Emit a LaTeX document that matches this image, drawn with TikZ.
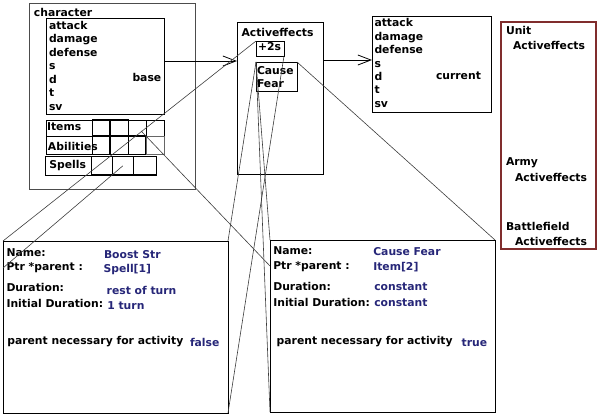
\documentclass[tikz,border=0pt]{standalone}
\usepackage{fontspec}
\setmainfont{DejaVu Sans}
\usetikzlibrary{arrows.meta,calc}
\definecolor{navy}{RGB}{38,38,120}
\definecolor{panelred}{RGB}{128,45,45}
\definecolor{projgray}{RGB}{60,60,60}
\begin{document}
\begin{tikzpicture}[x=1pt,y=-1pt,
  every node/.style={inner sep=0pt, outer sep=0pt},
  txt/.style={anchor=base west, font=\fontsize{10.8}{12}\selectfont\bfseries},
  val/.style={txt, text=navy},
  box/.style={draw=black, line width=0.8pt, anchor=north west},
  cell/.style={draw=black, line width=0.7pt, anchor=north west},
  thickcell/.style={draw=black, line width=1.1pt, anchor=north west},
  proj/.style={draw=projgray, line width=0.6pt},
  arr/.style={draw=black, line width=0.8pt, -{Straight Barb[length=13pt,width=10pt]}},
]
\useasboundingbox (0,0) rectangle (598,416);

% character box
\node[box, draw=black!70, minimum width=166pt, minimum height=186pt] (chr) at (29,3) {};
\node[txt] (chrt) at (34,16.5) {character};
\node[box, minimum width=118pt, minimum height=96pt] (base) at (46,18) {};
\node[txt] (b1) at (49,29) {attack};
\node[txt] (b2) at (49,42.5) {damage};
\node[txt] (b3) at (49,56) {defense};
\node[txt] (b4) at (49,69) {s};
\node[txt] (b5) at (49,83) {d};
\node[txt] (b6) at (49,96.5) {t};
\node[txt] (b7) at (49,110) {sv};
\node[txt] (bn) at (132.5,81) {base};

% items row
\node[cell, minimum width=46.7pt, minimum height=16pt] (il) at (46,120) {};
\node[txt] (ilt) at (47,130.5) {Items};
\node[thickcell, minimum width=17.3pt, minimum height=16pt] (i0) at (92.7,120) {};
\node[thickcell, minimum width=18.3pt, minimum height=16pt] (i1) at (110,120) {};
\node[cell, minimum width=17.7pt, minimum height=16pt] (i2) at (128.3,120) {};
\node[cell, minimum width=18.3pt, minimum height=16pt] (i3) at (146,120) {};
% abilities row
\node[cell, minimum width=46.7pt, minimum height=18.5pt] (al) at (46,136) {};
\node[txt] (alt) at (48,150.5) {Abilities};
\node[cell, minimum width=17.3pt, minimum height=18.5pt] (a0) at (92.7,136) {};
\node[thickcell, minimum width=18.3pt, minimum height=18.5pt] (a1c) at (110,136) {};
\node[thickcell, minimum width=17.7pt, minimum height=18.5pt] (a2c) at (128.3,136) {};
\node[cell, draw=black!60, minimum width=18.3pt, minimum height=18.5pt] (a3) at (146,136) {};
% spells row
\node[cell, minimum width=46.4pt, minimum height=18.3pt] (sl) at (45.3,156.7) {};
\node[txt] (slt) at (49.3,168.5) {Spells};
\node[thickcell, minimum width=20.6pt, minimum height=18.3pt] (s0) at (91.7,156.7) {};
\node[thickcell, minimum width=21pt, minimum height=18.3pt] (s1) at (112.3,156.7) {};
\node[thickcell, minimum width=23.4pt, minimum height=18.3pt] (s2) at (133.3,156.7) {};

% Activeffects
\node[box, minimum width=86pt, minimum height=152pt] (ae) at (237,22) {};
\node[txt] (aet) at (241.5,36) {Activeffects};
\node[box, minimum width=28pt, minimum height=15pt] (plus) at (256,41) {};
\node[txt] (plust) at (258,50.5) {+2s};
\node[box, minimum width=41pt, minimum height=29pt] (cf) at (256,62) {};
\node[txt] (cft1) at (257,74.5) {Cause};
\node[txt] (cft2) at (257,87) {Fear};

% current
\node[box, minimum width=119pt, minimum height=96pt] (cur) at (372,16) {};
\node[txt] (c1) at (374.5,26.7) {attack};
\node[txt] (c2) at (374.5,40) {damage};
\node[txt] (c3) at (374.5,53.5) {defense};
\node[txt] (c4) at (374.5,67) {s};
\node[txt] (c5) at (374.5,80.5) {d};
\node[txt] (c6) at (374.5,93.8) {t};
\node[txt] (c7) at (374.5,107.3) {sv};
\node[txt] (cn) at (436,79) {current};

% right panel
\node[box, draw=panelred, line width=1.1pt, minimum width=95pt, minimum height=227pt] (panel) at (501,22) {};
\node[txt] (p1) at (506,34) {Unit};
\node[txt] (p2) at (513,49) {Activeffects};
\node[txt] (p3) at (506,165) {Army};
\node[txt] (p4) at (515,181) {Activeffects};
\node[txt] (p5) at (506,230) {Battlefield};
\node[txt] (p6) at (515,245) {Activeffects};

% left bottom box
\node[box, minimum width=225pt, minimum height=172pt] (lb) at (3,241) {};
\node[txt] (l1) at (6.5,256) {Name:};
\node[val] (l1v) at (104,258) {Boost Str};
\node[txt] (l2) at (6.5,270) {Ptr *parent :};
\node[val] (l2v) at (103.5,272.5) {Spell[1]};
\node[txt] (l3) at (6.5,291.7) {Duration:};
\node[val] (l3v) at (106.7,294) {rest of turn};
\node[txt] (l4) at (6.5,307.7) {Initial Duration:};
\node[val] (l4v) at (107.3,309) {1 turn};
\node[txt] (l5) at (7.3,344) {parent necessary for activity};
\node[val] (l5v) at (190,346) {false};

% right bottom box
\node[box, minimum width=225pt, minimum height=172pt] (rb) at (270,240) {};
\node[txt] (r1) at (273.3,254.3) {Name:};
\node[val] (r1v) at (373.3,255) {Cause Fear};
\node[txt] (r2) at (273.3,269) {Ptr *parent :};
\node[val] (r2v) at (373.3,270.5) {Item[2]};
\node[txt] (r3) at (273.3,290) {Duration:};
\node[val] (r3v) at (374.3,290.7) {constant};
\node[txt] (r4) at (273.3,306) {Initial Duration:};
\node[val] (r4v) at (374.3,306) {constant};
\node[txt] (r5) at (276.7,344) {parent necessary for activity};
\node[val] (r5v) at (461.7,346) {true};

% arrows
\coordinate (ar1) at ($(base.north east)+(0,43)$);
\draw[arr] (ar1) -- (ar1 -| ae.west);
\coordinate (ar2) at ($(ae.north east)+(0,38)$);
\draw[arr] (ar2) -- (ar2 -| cur.west);

% projection lines
\draw[proj] (plus.north west) -- (lb.north west);
\draw[proj] (cf.north west) -- (lb.north east);
\draw[proj] (plus.south east) -- (lb.south east);
\draw[proj] (cf.north west) -- (rb.north west);
\draw[proj] (cf.north west) -- (rb.south west);
\draw[proj] (cf.north east) -- (rb.north east);
\coordinate (lbptr) at ($(lb.north west)+(0,27)$);
\draw[proj] (s1.center) -- (lbptr);
\coordinate (itp) at ($(i2.center)+(4,3)$);
\coordinate (rbptr) at ($(rb.north west)+(0,26)$);
\draw[proj] (itp) -- (rbptr);
\end{tikzpicture}
\end{document}
